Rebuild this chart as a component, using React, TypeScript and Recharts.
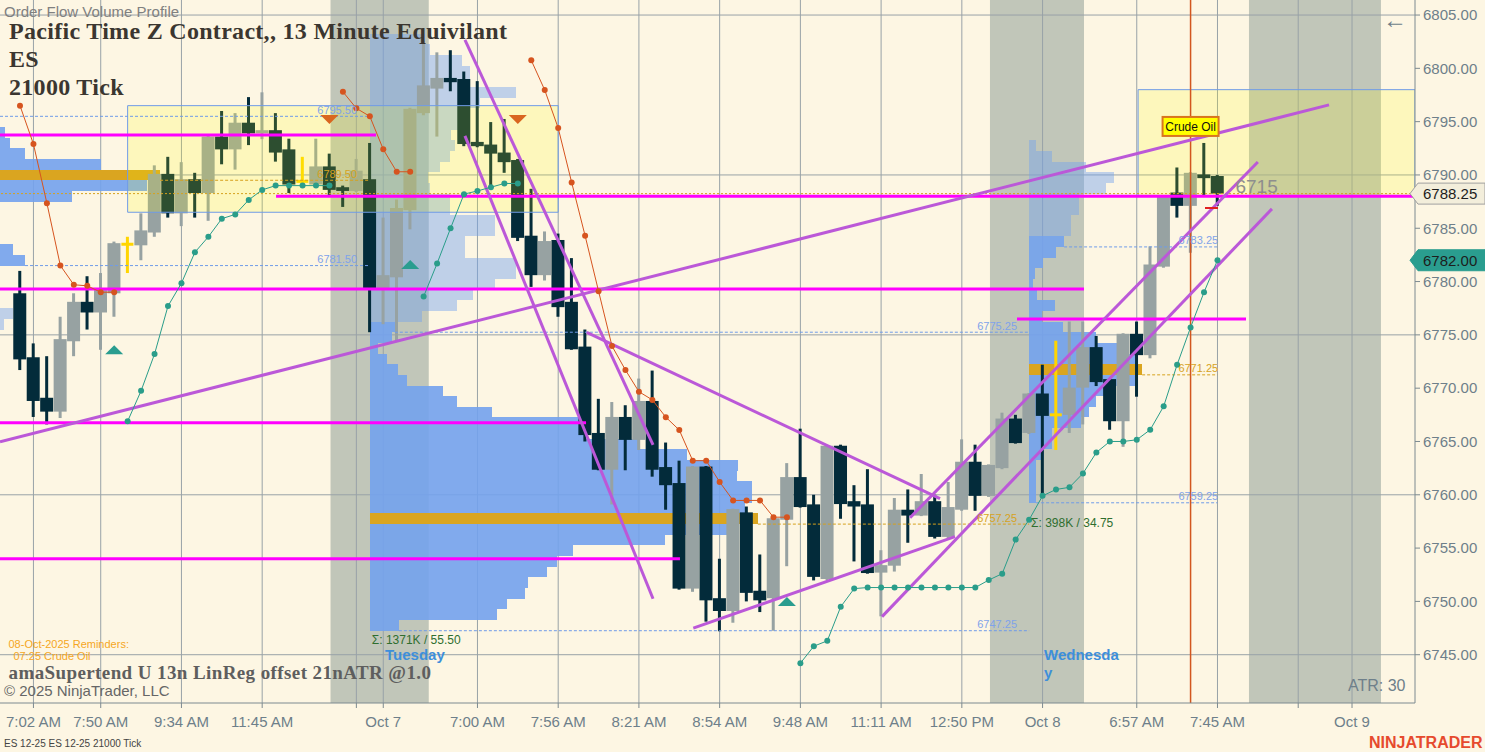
import React from 'react'
import {
  ComposedChart,
  Bar,
  Line,
  XAxis,
  YAxis,
  ReferenceArea,
  ReferenceLine,
  ReferenceDot,
} from 'recharts'

// visible window: bar index on x, price on y
const XMIN = -1.486
const XMAX = 103.68
const YMIN = 6740.47
const YMAX = 6806.41

// 21000 tick bars
const opens = [
  6778.9, 6772.9, 6769.1, 6767.8, 6774.4, 6778.1, 6777.1, 6778.9, 6783.5, 6783.4,
  6784.6, 6790.1, 6786.4, 6789.6, 6788.3, 6793.6, 6792.4, 6794.9, 6793.9, 6794.2,
  6792.4, 6789.4, 6789.1, 6790.8, 6788.85, 6788.5, 6789.6, 6779.4, 6780.4, 6786.7,
  6795.8, 6798.1, 6799.1, 6799.0, 6793.1, 6792.85, 6792.1, 6791.4, 6784.3, 6780.6,
  6783.9, 6778.1, 6773.9, 6765.8, 6762.35, 6767.3, 6765.15, 6768.8, 6762.6, 6761.1,
  6751.2, 6762.65, 6750.3, 6749.1, 6758.35, 6751.0, 6750.3, 6757.66, 6761.66, 6759.1,
  6752.1, 6764.6, 6759.4, 6759.1, 6752.7, 6753.35, 6758.6, 6758.05, 6759.4, 6756.05,
  6758.6, 6763.1, 6759.9, 6762.5, 6767.15, 6765.8, 6769.5, 6767.5, 6767.5, 6770.05,
  6773.85, 6770.85, 6766.9, 6775.1, 6773.1, 6781.4, 6788.35, 6787.1, 6790.05, 6789.9,
]
const highs = [
  6781.0, 6774.2, 6773.0, 6776.7, 6778.9, 6780.5, 6780.8, 6783.75, 6784.2, 6786.4,
  6790.9, 6791.7, 6791.2, 6790.2, 6793.7, 6796.0, 6795.8, 6797.3, 6797.75, 6795.8,
  6793.4, 6791.7, 6793.4, 6792.0, 6789.0, 6791.5, 6793.0, 6786.0, 6787.7, 6796.3,
  6802.6, 6801.5, 6801.7, 6799.7, 6798.8, 6794.96, 6795.25, 6791.5, 6788.7, 6784.7,
  6784.5, 6782.2, 6775.5, 6769.0, 6768.7, 6768.4, 6770.9, 6771.65, 6764.9, 6763.2,
  6762.7, 6762.7, 6754.0, 6758.7, 6758.9, 6754.4, 6757.85, 6762.97, 6766.2, 6760.0,
  6764.65, 6764.7, 6760.9, 6762.4, 6754.8, 6759.7, 6760.5, 6761.95, 6760.0, 6761.2,
  6765.2, 6764.7, 6762.85, 6767.7, 6767.5, 6769.55, 6772.2, 6774.45, 6776.25, 6776.25,
  6774.9, 6770.9, 6775.15, 6776.25, 6783.3, 6788.05, 6790.7, 6790.25, 6793.0, 6790.0,
]
const lows = [
  6771.7, 6767.3, 6766.6, 6767.2, 6773.0, 6775.5, 6773.6, 6776.7, 6780.8, 6782.0,
  6784.2, 6786.0, 6785.2, 6786.0, 6785.7, 6791.0, 6790.5, 6792.8, 6793.35, 6791.25,
  6788.3, 6789.2, 6788.9, 6788.1, 6787.0, 6788.4, 6775.25, 6776.0, 6774.5, 6784.9,
  6795.6, 6793.6, 6797.85, 6792.7, 6792.6, 6788.95, 6790.2, 6783.8, 6779.5, 6780.1,
  6776.7, 6773.6, 6765.0, 6762.3, 6759.1, 6762.3, 6764.2, 6761.7, 6758.6, 6751.1,
  6750.9, 6748.1, 6747.2, 6748.0, 6750.0, 6749.0, 6747.25, 6753.3, 6758.8, 6751.97,
  6752.0, 6757.75, 6753.75, 6752.6, 6748.6, 6752.8, 6755.5, 6758.0, 6755.9, 6755.95,
  6758.5, 6758.5, 6759.8, 6762.4, 6764.8, 6765.7, 6760.0, 6764.2, 6765.8, 6766.6,
  6770.2, 6766.1, 6764.5, 6769.2, 6772.8, 6781.3, 6786.0, 6782.7, 6788.1, 6787.1,
]
const closes = [
  6772.7, 6768.8, 6767.8, 6774.6, 6778.1, 6777.1, 6779.2, 6783.6, 6783.5, 6784.8,
  6790.1, 6786.4, 6789.6, 6788.3, 6793.6, 6792.4, 6794.9, 6793.9, 6794.2, 6792.1,
  6789.1, 6789.4, 6790.8, 6788.6, 6788.5, 6790.4, 6779.4, 6780.6, 6786.9, 6796.2,
  6798.4, 6799.1, 6798.7, 6792.9, 6792.7, 6792.0, 6791.2, 6784.1, 6780.6, 6783.8,
  6777.6, 6773.65, 6765.6, 6762.35, 6767.3, 6765.15, 6768.8, 6762.35, 6760.9, 6751.2,
  6762.65, 6750.1, 6749.1, 6758.66, 6750.8, 6750.1, 6757.8, 6761.66, 6758.85, 6752.3,
  6764.6, 6759.13, 6758.9, 6752.66, 6753.4, 6758.6, 6758.05, 6759.4, 6756.05, 6758.85,
  6763.1, 6759.9, 6762.8, 6767.15, 6764.85, 6769.5, 6767.4, 6767.5, 6770.05, 6773.85,
  6770.57, 6766.9, 6775.1, 6773.1, 6781.6, 6788.0, 6787.1, 6790.2, 6789.7, 6788.25,
]

// amaSupertrend trail, and the bars where it flips (starts in down mode)
const supertrend = [
  6796.5, 6792.9, 6787.35, 6781.5, 6779.7, 6779.6, 6779.0, 6779.0, 6766.9, 6769.75,
  6773.2, 6777.7, 6779.85, 6782.75, 6784.2, 6785.9, 6786.3, 6787.66, 6788.6, 6789.0,
  6789.0, 6789.0, 6789.0, 6789.0, 6797.8, 6796.25, 6795.5, 6792.4, 6790.3, 6790.3,
  6778.6, 6781.7, 6785.0, 6788.2, 6788.5, 6788.85, 6789.2, 6789.2, 6800.75, 6797.96,
  6794.4, 6789.3, 6784.3, 6779.1, 6773.95, 6771.7, 6769.67, 6768.9, 6767.28, 6766.07,
  6763.2, 6763.2, 6761.2, 6759.47, 6759.47, 6759.47, 6757.9, 6757.9, 6744.2, 6745.8,
  6746.3, 6749.5, 6751.2, 6751.3, 6751.3, 6751.3, 6751.3, 6751.3, 6751.3, 6751.3,
  6751.3, 6751.3, 6752.0, 6752.6, 6755.8, 6757.66, 6759.9, 6760.5, 6760.7, 6762.0,
  6763.97, 6765.0, 6765.0, 6765.16, 6766.1, 6768.3, 6772.2, 6775.7, 6779.0, 6782.0,
]
const trendFlips = [8, 24, 30, 38, 58]

const buyBars = [7, 29, 57]
const buyLevels = [6773.6, 6781.6, 6750.0]
const sellBars = [23, 37]
const sellLevels = [6795.2, 6795.2]

// time axis
const tickIdx = [1, 6, 12, 18, 25, 27, 34, 40, 46, 52, 58, 64, 70, 76, 83, 89, 95, 99]
const tickText = [
  '7:02 AM', '7:50 AM', '9:34 AM', '11:45 AM', '', 'Oct 7', '7:00 AM', '7:56 AM', '8:21 AM',
  '8:54 AM', '9:48 AM', '11:11 AM', '12:50 PM', 'Oct 8', '6:57 AM', '7:45 AM', '', 'Oct 9',
]
const priceTicks = [6745, 6750, 6755, 6760, 6765, 6770, 6775, 6780, 6785, 6790, 6795, 6800, 6805]
const priceGrid = [6745, 6760, 6775, 6790, 6805]

// out of session shading
const bandFrom = [23.08, 72.09, 91.34]
const bandTo = [30.38, 79.08, 101.15]

// session volume profiles: one row per point, width in bar slots
const monBase = 6775.5
const monVol = [0.3, 0.97, 0, 0, 0, 0, 1.86, 0.97, 0, 0, 0, 0, 5.35, 10.93, 11.9, 7.5, 1.86, 0.74, 0.37]
const monVal = 6781.5
const monVah = 6795.5
const monPoc = 6789.5

const tueBase = 6747.25
const tueVol = [
  2.16, 9.44, 10.18, 11.52, 11.74, 13.16, 13.9, 15.09, 21.92, 26.53, 28.84, 27.87, 28.39, 28.39,
  27.28, 27.35, 23.56, 20.07, 15.98, 15.98, 9.07, 6.47, 5.43, 2.75, 2.08, 1.26, 0.59, 1.64, 1.86,
  3.86, 6.47, 7.66, 9.29, 10.85, 10.85, 7.06, 7.06, 9.29, 9.29, 5.95, 5.95, 4.46, 4.31, 5.2, 5.95,
  6.32, 6.02, 6.54, 6.54, 8.18, 10.85, 7.43, 7.43, 6.84, 4.46, 4.09,
]
const tueVal = 6747.25
const tueVah = 6775.25
const tuePoc = 6757.25

const wedBase = 6759.25
const wedVol = [
  0.52, 0.52, 0.52, 0.52, 1.11, 1.71, 1.71, 3.86, 4.46, 4.98, 5.95, 7.95, 8.4, 7.95, 6.69, 4.98,
  2.53, 0.97, 1.93, 0.59, 0.3, 0.45, 1.04, 2.0, 2.6, 3.12, 3.12, 3.72, 3.72, 5.72, 6.32, 4.24,
  1.71, 0.52,
]
const wedVal = 6759.25
const wedVah = 6783.25
const wedPoc = 6771.25

// drawn objects
const levelPrices = [6793.75, 6788.0, 6779.3, 6766.75, 6754.0, 6776.5]
const levelFrom = [XMIN, 19.03, XMIN, XMIN, XMIN, 74.1]
const levelTo = [26.46, XMAX, 79.08, 42.07, 49.05, 91.12]

const trendLines = [
  [XMIN, 6764.97, 97.29, 6796.57],
  [33.07, 6802.66, 47.05, 6764.69],
  [33.07, 6793.66, 47.05, 6750.25],
  [42.12, 6775.24, 68.38, 6759.63],
  [50.04, 6747.5, 69.49, 6756.07],
  [66.15, 6757.85, 92.0, 6791.22],
  [64.07, 6748.57, 93.05, 6786.82],
]

const zones = [
  [8.0, 40.0, 6786.5, 6796.5],
  [83.1, XMAX, 6788.0, 6798.0],
]

const lastPrice = 6788.25
const cursorBar = 87

const UP = '#97a2a2'
const DOWN = '#032b3a'
const DOJI = '#ffd500'
const BLUE = '#6f9be8'
const GOLD = '#d6a21e'
const AXIS = '#6e7f8a'
const GRID = '#98a2a7'
const SANS = "'Liberation Sans', Arial, sans-serif"
const SERIF = "'Liberation Serif', 'DejaVu Serif', serif"

const isUp = (i: number) => trendFlips.filter(f => f <= i).length % 2 === 1

const data = opens.map((o, i) => ({
  i,
  o,
  h: highs[i],
  l: lows[i],
  c: closes[i],
  range: [lows[i], highs[i]],
  stDn: isUp(i) ? null : supertrend[i],
  stUp: isUp(i) ? supertrend[i] : null,
}))

function profileRows(start: number, base: number, vol: number[], val: number, vah: number, poc: number) {
  return vol
    .map((w, k) => {
      const p = base + k
      const kind = p === poc ? 'poc' : p >= val && p <= vah ? 'va' : 'out'
      return { x1: start, x2: start + w, y1: p, y2: p + 1, kind, w }
    })
    .filter(r => r.w > 0)
}

const profiles = [
  { start: XMIN, end: 26, labelEnd: 25.05, rows: profileRows(XMIN, monBase, monVol, monVal, monVah, monPoc), vol: monVol, base: monBase, val: monVal, vah: monVah, poc: monPoc },
  { start: 26, end: 75, labelEnd: 74.1, rows: profileRows(26, tueBase, tueVol, tueVal, tueVah, tuePoc), vol: tueVol, base: tueBase, val: tueVal, vah: tueVah, poc: tuePoc },
  { start: 75, end: 89, labelEnd: 89.05, rows: profileRows(75, wedBase, wedVol, wedVal, wedVah, wedPoc), vol: wedVol, base: wedBase, val: wedVal, vah: wedVah, poc: wedPoc },
]

function Candle(props: any) {
  const { x, y, width, height, payload } = props
  if (!payload || x == null) return null
  const { o, h, l, c } = payload
  const top = Math.min(y, y + height)
  const span = Math.abs(height)
  const k = h > l ? span / (h - l) : 0
  const py = (p: number) => top + (h - p) * k
  const mid = x + width / 2
  if (o === c) {
    return (
      <g>
        <rect x={mid - 1.5} y={top} width={3} height={Math.max(span, 1)} fill={DOJI} />
        <rect x={mid - 6} y={py(o) - 1.5} width={12} height={3} fill={DOJI} />
      </g>
    )
  }
  const color = c > o ? UP : DOWN
  const bt = py(Math.max(o, c))
  const bb = py(Math.min(o, c))
  return (
    <g>
      <rect x={mid - 1.5} y={top} width={3} height={span} fill={color} />
      <rect x={x} y={bt} width={width} height={Math.max(bb - bt, 2)} fill={color} />
    </g>
  )
}

function Triangle({ cx, cy, up, color }: any) {
  if (cx == null) return null
  const d = up
    ? `M${cx - 9},${cy + 4.5} L${cx + 9},${cy + 4.5} L${cx},${cy - 4.5} Z`
    : `M${cx - 9},${cy - 4.5} L${cx + 9},${cy - 4.5} L${cx},${cy + 4.5} Z`
  return <path d={d} fill={color} />
}

function PriceTag({ cx, cy, text, fill, stroke }: any) {
  if (cx == null) return null
  const d = `M${cx - 5},${cy} L${cx + 3},${cy - 10.5} L${cx + 70},${cy - 10.5} L${cx + 70},${cy + 10.5} L${cx + 3},${cy + 10.5} Z`
  return (
    <g>
      <path d={d} fill={fill} stroke={stroke} strokeWidth={1} />
      <text x={cx + 8} y={cy + 5.4} fontSize={15} fill="#1d1d1d" fontFamily={SANS}>
        {text}
      </text>
    </g>
  )
}

function Label({ cx, cy, text, color, size = 11, anchor = 'end', dx = 0, dy = 0, weight = 400 }: any) {
  if (cx == null) return null
  return (
    <text x={cx + dx} y={cy + dy} fontSize={size} fill={color} textAnchor={anchor} fontFamily={SANS} fontWeight={weight}>
      {text}
    </text>
  )
}

function CrudeOil({ cx, cy }: any) {
  if (cx == null) return null
  return (
    <g>
      <rect x={cx - 28} y={cy - 9.5} width={56} height={19} fill="#ffff00" stroke="#d9751e" strokeWidth={2} />
      <text x={cx} y={cy + 4.3} fontSize={12} fill="#111" textAnchor="middle" fontFamily={SANS}>
        Crude Oil
      </text>
    </g>
  )
}

export default function App() {
  return (
    <div style={{ position: 'relative', width: 1485, height: 752, background: '#fdf6e3', overflow: 'hidden' }}>
      <style>{'body{margin:0;background:#fdf6e3}'}</style>
      <ComposedChart width={1485} height={752} data={data} margin={{ top: 0, right: 0, bottom: 0, left: 0 }}>
        <XAxis
          type="number"
          dataKey="i"
          domain={[XMIN, XMAX]}
          allowDataOverflow
          ticks={tickIdx}
          interval={0}
          tickFormatter={(v: number) => tickText[tickIdx.indexOf(v)] ?? ''}
          height={49}
          tickSize={5}
          tickMargin={8}
          tick={{ fill: AXIS, fontSize: 15, fontFamily: SANS }}
          axisLine={{ stroke: '#7d8a90' }}
          tickLine={{ stroke: '#7d8a90' }}
        />
        <YAxis
          orientation="right"
          type="number"
          domain={[YMIN, YMAX]}
          allowDataOverflow
          ticks={priceTicks}
          interval={0}
          width={70}
          tickSize={5}
          tickMargin={3}
          tickFormatter={(v: number) => v.toFixed(2)}
          tick={{ fill: AXIS, fontSize: 15, fontFamily: SANS }}
          axisLine={{ stroke: '#7d8a90' }}
          tickLine={{ stroke: '#7d8a90' }}
        />

        {bandFrom.map((b, k) => (
          <ReferenceArea key={`band${k}`} x1={b} x2={bandTo[k]} fill="#c1c6b9" fillOpacity={1} stroke="none" ifOverflow="hidden" zIndex={-90} />
        ))}
        {tickIdx.map(t => (
          <ReferenceLine key={`gx${t}`} x={t} stroke={GRID} strokeWidth={1} zIndex={-80} />
        ))}
        {priceGrid.map(p => (
          <ReferenceLine key={`gy${p}`} y={p} stroke={GRID} strokeWidth={1} zIndex={-80} />
        ))}

        {profiles.map((pr, n) =>
          pr.rows.map((r, k) => (
            <ReferenceArea
              key={`pr${n}-${k}`}
              x1={r.x1}
              x2={r.x2}
              y1={r.y1}
              y2={r.y2}
              fill={r.kind === 'poc' ? '#daa520' : '#73a2ed'}
              fillOpacity={r.kind === 'poc' ? 1 : r.kind === 'va' ? 0.9 : 0.45}
              stroke="none"
              shapeRendering="crispEdges"
              ifOverflow="hidden"
              zIndex={-70}
            />
          ))
        )}

        <Bar dataKey="range" barSize={13} shape={<Candle />} isAnimationActive={false} />

        {zones.map((z, k) => (
          <ReferenceArea
            key={`zone${k}`}
            x1={z[0]}
            x2={z[1]}
            y1={z[2]}
            y2={z[3]}
            fill="#ffff00"
            fillOpacity={0.17}
            stroke={BLUE}
            strokeWidth={1}
            ifOverflow="hidden"
            zIndex={350}
          />
        ))}

        <ReferenceLine y={lastPrice} stroke={GOLD} strokeDasharray="2 2" strokeWidth={1} />

        {profiles.map((pr, n) => {
          const widthAt = (p: number) => {
            const w = pr.vol[Math.round(p - pr.base)]
            return w && w > 0 ? w : 0
          }
          const levels = [
            { p: pr.vah, color: BLUE },
            { p: pr.val, color: BLUE },
            { p: pr.poc, color: GOLD },
          ]
          return levels.map((lv, k) => (
            <ReferenceLine
              key={`lv${n}-${k}`}
              segment={[
                { x: pr.start + widthAt(lv.p), y: lv.p },
                { x: pr.end, y: lv.p },
              ]}
              stroke={lv.color}
              strokeDasharray="3 2"
              strokeWidth={1}
              ifOverflow="hidden"
            />
          ))
        })}

        {levelPrices.map((p, k) => (
          <ReferenceLine
            key={`mg${k}`}
            segment={[
              { x: levelFrom[k], y: p },
              { x: levelTo[k], y: p },
            ]}
            stroke="#ff00ff"
            strokeWidth={3}
            ifOverflow="hidden"
          />
        ))}

        <ReferenceLine x={cursorBar} stroke="#d2561e" strokeWidth={1.5} />

        {trendLines.map((t, k) => (
          <ReferenceLine
            key={`tl${k}`}
            segment={[
              { x: t[0], y: t[1] },
              { x: t[2], y: t[3] },
            ]}
            stroke="#bb58d8"
            strokeWidth={3}
            ifOverflow="hidden"
          />
        ))}

        <Line
          dataKey="stDn"
          stroke="#d6541f"
          strokeWidth={1}
          dot={{ r: 3, fill: '#d6541f', stroke: '#d6541f', strokeWidth: 0 }}
          activeDot={false}
          isAnimationActive={false}
        />
        <Line
          dataKey="stUp"
          stroke="#2a9d8a"
          strokeWidth={1}
          dot={{ r: 3, fill: '#2a9d8a', stroke: '#2a9d8a', strokeWidth: 0 }}
          activeDot={false}
          isAnimationActive={false}
        />

        {buyBars.map((b, k) => (
          <ReferenceDot key={`buy${k}`} x={b} y={buyLevels[k]} r={0} shape={(p: any) => <Triangle {...p} up color="#2a9d8f" />} />
        ))}
        {sellBars.map((b, k) => (
          <ReferenceDot key={`sell${k}`} x={b} y={sellLevels[k]} r={0} shape={(p: any) => <Triangle {...p} color="#d9661f" />} />
        ))}

        {profiles.map((pr, n) =>
          [pr.vah, pr.val, pr.poc].map((p, k) => (
            <ReferenceDot
              key={`lb${n}-${k}`}
              x={pr.labelEnd}
              y={p}
              r={0}
              ifOverflow="visible"
              shape={(q: any) => <Label {...q} text={p.toFixed(2)} color={k === 2 ? GOLD : '#7fa3ea'} dy={-2.5} />}
            />
          ))
        )}
        <ReferenceDot
          x={26}
          y={tueVal}
          r={0}
          ifOverflow="visible"
          shape={(q: any) => <Label {...q} text="Σ: 1371K / 55.50" color="#2f6e2f" size={12} anchor="start" dx={2} dy={13} />}
        />
        <ReferenceDot
          x={75}
          y={wedVal}
          r={0}
          ifOverflow="visible"
          shape={(q: any) => <Label {...q} text="Σ: 398K / 34.75" color="#2f6e2f" size={12} anchor="start" dx={2} dy={24.5} />}
        />
        <ReferenceDot
          x={89}
          y={lastPrice}
          r={0}
          ifOverflow="visible"
          shape={(q: any) => <Label {...q} text="6715" color="#8e8e8e" size={19} anchor="start" dx={18} dy={-1} />}
        />
        <ReferenceDot x={cursorBar} y={6794.55} r={0} ifOverflow="visible" shape={(q: any) => <CrudeOil {...q} />} />
        <ReferenceLine segment={[{ x: 88.07, y: 6794.3 }, { x: 89.04, y: 6794.3 }]} stroke="#2040c8" strokeWidth={2} />
        <ReferenceLine segment={[{ x: 88.07, y: 6786.9 }, { x: 89.04, y: 6786.9 }]} stroke="#e02020" strokeWidth={2} />

        <ReferenceDot
          x={XMAX}
          y={lastPrice}
          r={0}
          ifOverflow="visible"
          shape={(q: any) => <PriceTag {...q} text={lastPrice.toFixed(2)} fill="#f3eedb" stroke="#a0a0a0" />}
        />
        <ReferenceDot
          x={XMAX}
          y={supertrend[supertrend.length - 1]}
          r={0}
          ifOverflow="visible"
          shape={(q: any) => <PriceTag {...q} text={supertrend[supertrend.length - 1].toFixed(2)} fill="#2a9d8f" stroke="#2a9d8f" />}
        />
      </ComposedChart>

      <svg width={1485} height={752} style={{ position: 'absolute', left: 0, top: 0, pointerEvents: 'none' }}>
        <text x={4} y={17} fontSize={15} fill="#808080" fontFamily={SANS}>Order Flow Volume Profile</text>
        <text x={9} y={39} fontSize={24} letterSpacing={0.3} fill="#3b3630" fontWeight={700} fontFamily={SERIF}>
          Pacific Time Z Contract,, 13 Minute Equivilant
        </text>
        <text x={9} y={67} fontSize={24} letterSpacing={0.3} fill="#3b3630" fontWeight={700} fontFamily={SERIF}>ES</text>
        <text x={9} y={95} fontSize={24} letterSpacing={0.3} fill="#3b3630" fontWeight={700} fontFamily={SERIF}>21000 Tick</text>
        <text x={1383} y={28} fontSize={24} fill={AXIS} fontFamily={SANS}>←</text>

        <text x={8.5} y={648} fontSize={11} fill="#f5a623" fontFamily={SANS}>08-Oct-2025 Reminders:</text>
        <text x={13.5} y={660} fontSize={11} fill="#f5a623" fontFamily={SANS}>07:25 Crude Oil</text>
        <text x={8.5} y={678.5} fontSize={19} letterSpacing={0.4} fill="#5e5e5e" fontWeight={700} fontFamily={SERIF}>
          amaSupertend U 13n LinReg offset 21nATR @1.0
        </text>
        <text x={4} y={695.5} fontSize={15} fill="#666" fontFamily={SANS}>© 2025 NinjaTrader, LLC</text>
        <text x={385} y={660} fontSize={15} fill="#3d8fdb" fontWeight={700} fontFamily={SANS}>Tuesday</text>
        <text x={1044} y={660} fontSize={15} fill="#3d8fdb" fontWeight={700} fontFamily={SANS}>Wednesda</text>
        <text x={1044} y={678} fontSize={15} fill="#3d8fdb" fontWeight={700} fontFamily={SANS}>y</text>
        <text x={1348} y={691} fontSize={16} fill={AXIS} fontFamily={SANS}>ATR: 30</text>
        <text x={4} y={747} fontSize={10} fill="#444" fontFamily={SANS}>ES 12-25 ES 12-25 21000 Tick</text>
        <text x={1369} y={748} fontSize={16} fill="#e64a2e" fontWeight={700} fontFamily={SANS}>NINJATRADER</text>
      </svg>
    </div>
  )
}
